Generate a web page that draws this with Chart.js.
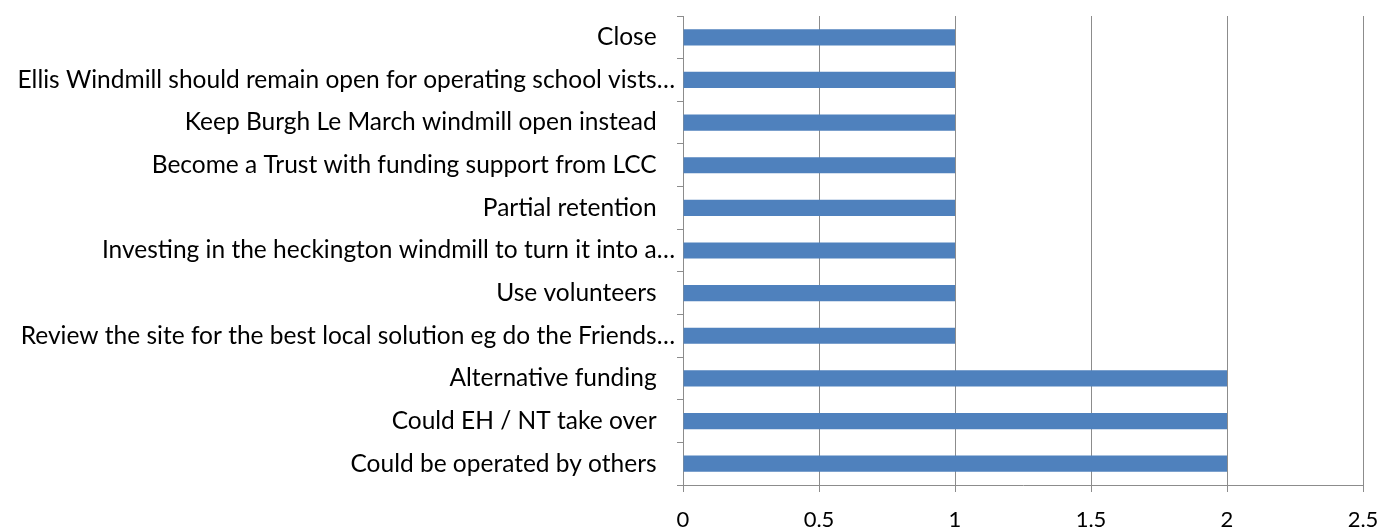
<!DOCTYPE html>
<html>
<head>
<meta charset="utf-8">
<script src="https://cdn.jsdelivr.net/npm/chart.js@4"></script>
<style>
html,body{margin:0;padding:0;background:#fff;}
#wrap{width:1383px;height:529px;position:relative;}
</style>
</head>
<body>
<div id="wrap"><canvas id="c" width="1383" height="529"></canvas></div>
<script>
const categories = [
  "Close",
  "Ellis Windmill should remain open for operating school vists…",
  "Keep Burgh Le March windmill open instead",
  "Become a Trust with funding support from LCC",
  "Partial retention",
  "Investing in the heckington windmill to turn it into a…",
  "Use volunteers",
  "Review the site for the best local solution eg do the Friends…",
  "Alternative funding",
  "Could EH / NT take over",
  "Could be operated by others"
];
const counts = [1, 1, 1, 1, 1, 1, 1, 1, 2, 2, 2];
const xTicks = [0, 0.5, 1, 1.5, 2, 2.5];

const FONT = {family: "Lato", size: 24.5, lineHeight: 1.0};
const XFONT = {family: "Lato", size: 22, lineHeight: 1.0};
const GRID = "#8c8c8c";

new Chart(document.getElementById('c'), {
  type: 'bar',
  data: {
    labels: categories,
    datasets: [{
      data: counts,
      backgroundColor: '#4F81BD',
      borderWidth: 0,
      barPercentage: 0.38,
      categoryPercentage: 1
    }]
  },
  options: {
    indexAxis: 'y',
    responsive: false,
    animation: false,
    layout: {padding: {top: 16, right: 20, bottom: 0, left: 0}},
    plugins: {legend: {display: false}, tooltip: {enabled: false}},
    scales: {
      x: {
        min: 0, max: 2.5,
        afterBuildTicks: (s) => { s.ticks = xTicks.map(v => ({value: v})); },
        afterFit: (s) => { s.height = 44; s.paddingLeft = 0; s.paddingRight = 0; },
        grid: {color: GRID, lineWidth: 1, drawTicks: true, tickLength: 7, tickColor: GRID},
        border: {display: true, color: GRID, width: 1},
        ticks: {color: '#000', font: XFONT, padding: 17, maxRotation: 0,
                callback: (v) => String(v)}
      },
      y: {
        afterFit: (s) => { s.width = 683; },
        grid: {offset: true, drawOnChartArea: false, drawTicks: true, tickLength: 6, color: GRID, tickColor: GRID},
        border: {display: true, color: GRID, width: 1},
        ticks: {color: '#000', font: FONT, padding: 2, autoSkip: false,
                callback: (v, i) => categories[i].endsWith('…') ? categories[i] : categories[i] + '\u2003'}
      }
    }
  }
});
</script>
</body>
</html>
